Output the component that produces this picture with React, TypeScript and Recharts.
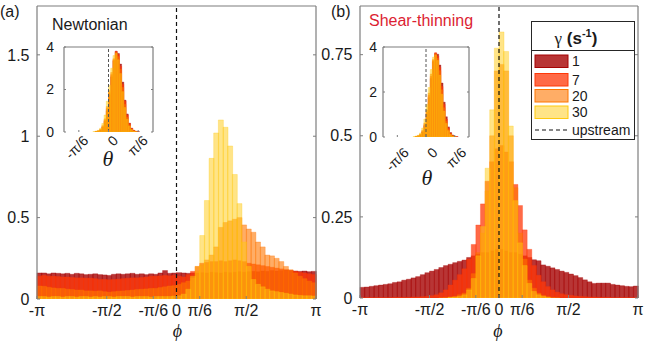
import React from "react";
import { ComposedChart, Bar, Line, XAxis, YAxis, ReferenceLine } from "recharts";

const PI = Math.PI;

// ---------- categories / ticks ----------
const GAMMA_LABELS = ["1", "7", "20", "30"];
const COLORS = ["#A60303", "#FF3809", "#FF7600", "#FFC90F"];
const ALPHAS = [0.8, 0.75, 0.6, 0.5];

const PHI_TICKS = [-PI, -PI / 2, -PI / 6, 0, PI / 6, PI / 2, PI];
const PHI_TICK_LABELS = ["-π", "-π/2", "-π/6", "0", "π/6", "π/2", "π"];
const THETA_TICKS = [-PI / 6, 0, PI / 6];
const THETA_TICK_LABELS = ["-π/6", "0", "π/6"];

const A_Y_TICKS = [0, 0.5, 1, 1.5];
const A_Y_LABELS = ["0", "0.5", "1", "1.5"];
const B_Y_TICKS = [0, 0.25, 0.5, 0.75];
const B_Y_LABELS = ["0", "0.25", "0.5", "0.75"];
const INSET_Y_TICKS = [0, 2, 4];
const INSET_Y_LABELS = ["0", "2", "4"];

// bin centres (60 bins over [-pi, pi], 40 bins over [-pi/4, pi/4])
const PHI_BINS = Array.from({ length: 60 }, (_, i) => -PI + (i + 0.5) * ((2 * PI) / 60));
const THETA_BINS = Array.from({ length: 40 }, (_, i) => -PI / 4 + (i + 0.5) * (PI / 2 / 40));

// ---------- panel (a) Newtonian, phi ----------
const A_G1 = [
  0.16, 0.16, 0.155, 0.16, 0.158, 0.155, 0.158, 0.152, 0.158, 0.155,
  0.15, 0.152, 0.155, 0.15, 0.148, 0.145, 0.152, 0.155, 0.152, 0.155,
  0.158, 0.152, 0.155, 0.15, 0.155, 0.152, 0.16, 0.175, 0.158, 0.16,
  0.162, 0.16, 0.158, 0.16, 0.16, 0.162, 0.16, 0.165, 0.162, 0.16,
  0.165, 0.162, 0.165, 0.168, 0.165, 0.168, 0.17, 0.168, 0.172, 0.17,
  0.175, 0.172, 0.175, 0.178, 0.175, 0.172, 0.17, 0.172, 0.168, 0.17,
];
const A_G7 = [
  0.14, 0.145, 0.14, 0.14, 0.138, 0.135, 0.135, 0.132, 0.13, 0.13,
  0.128, 0.128, 0.125, 0.12, 0.12, 0.118, 0.12, 0.122, 0.125, 0.128,
  0.13, 0.13, 0.132, 0.135, 0.14, 0.14, 0.142, 0.145, 0.142, 0.145,
  0.14, 0.135, 0.15, 0.17, 0.2, 0.22, 0.225, 0.23, 0.23, 0.235,
  0.23, 0.235, 0.24, 0.235, 0.23, 0.22, 0.215, 0.21, 0.205, 0.2,
  0.195, 0.19, 0.185, 0.18, 0.175, 0.17, 0.165, 0.16, 0.155, 0.15,
];
const A_G20 = [
  0.08, 0.078, 0.072, 0.068, 0.065, 0.065, 0.06, 0.058, 0.055, 0.055,
  0.05, 0.05, 0.048, 0.05, 0.045, 0.042, 0.045, 0.048, 0.05, 0.052,
  0.055, 0.058, 0.06, 0.062, 0.065, 0.065, 0.07, 0.075, 0.08, 0.082,
  0.09, 0.1, 0.11, 0.13, 0.17, 0.21, 0.24, 0.27, 0.32, 0.44,
  0.47, 0.48, 0.49, 0.5, 0.455, 0.43, 0.41, 0.35, 0.32, 0.27,
  0.265, 0.25, 0.23, 0.2, 0.18, 0.16, 0.14, 0.125, 0.11, 0.1,
];
const A_G30 = [
  0.015, 0.015, 0.012, 0.015, 0.015, 0.012, 0.015, 0.015, 0.012, 0.015,
  0.015, 0.012, 0.015, 0.012, 0.015, 0.015, 0.012, 0.015, 0.015, 0.015,
  0.012, 0.015, 0.015, 0.015, 0.012, 0.015, 0.015, 0.015, 0.015, 0.018,
  0.02, 0.03, 0.06, 0.14, 0.2, 0.39, 0.605, 0.864, 1.02, 1.1,
  1.055, 0.94, 0.765, 0.586, 0.35, 0.2, 0.12, 0.09, 0.075, 0.06,
  0.05, 0.045, 0.04, 0.035, 0.03, 0.025, 0.022, 0.02, 0.02, 0.018,
];

// ---------- panel (b) Shear-thinning, phi ----------
const B_G1 = [
  0.033, 0.034, 0.036, 0.038, 0.04, 0.042, 0.044, 0.048, 0.05, 0.055,
  0.058, 0.062, 0.066, 0.072, 0.078, 0.083, 0.088, 0.094, 0.1, 0.104,
  0.109, 0.113, 0.117, 0.125, 0.13, 0.135, 0.14, 0.14, 0.145, 0.15,
  0.15, 0.145, 0.14, 0.14, 0.135, 0.13, 0.125, 0.118, 0.115, 0.102,
  0.098, 0.093, 0.088, 0.083, 0.079, 0.074, 0.069, 0.063, 0.056, 0.05,
  0.045, 0.046, 0.046, 0.046, 0.042, 0.04, 0.038, 0.036, 0.035, 0.037,
];
const B_G7 = [
  0.001, 0.001, 0.001, 0.001, 0.001, 0.001, 0.001, 0.002, 0.002, 0.002,
  0.002, 0.003, 0.003, 0.004, 0.005, 0.007, 0.01, 0.016, 0.025, 0.04,
  0.055, 0.072, 0.09, 0.12, 0.165, 0.225, 0.29, 0.36, 0.42, 0.46,
  0.47, 0.45, 0.42, 0.35, 0.285, 0.21, 0.15, 0.1, 0.07, 0.05,
  0.035, 0.025, 0.018, 0.013, 0.01, 0.008, 0.006, 0.005, 0.004, 0.003,
  0.003, 0.002, 0.002, 0.002, 0.001, 0.001, 0.001, 0.001, 0.001, 0.001,
];
const B_G20 = [
  0, 0, 0, 0, 0, 0, 0, 0, 0, 0,
  0, 0, 0, 0, 0, 0, 0, 0.001, 0.002, 0.003,
  0.005, 0.01, 0.015, 0.03, 0.075, 0.14, 0.2, 0.33, 0.5, 0.7,
  0.72, 0.7, 0.5, 0.34, 0.2, 0.12, 0.055, 0.03, 0.015, 0.008,
  0.004, 0.002, 0.001, 0, 0, 0, 0, 0, 0, 0,
  0, 0, 0, 0, 0, 0, 0, 0, 0, 0,
];
const B_G30 = [
  0, 0, 0, 0, 0, 0, 0, 0, 0, 0,
  0, 0, 0, 0, 0, 0, 0, 0, 0, 0.002,
  0.003, 0.005, 0.01, 0.025, 0.06, 0.13, 0.22, 0.4, 0.58, 0.77,
  0.82, 0.76, 0.53, 0.3, 0.17, 0.1, 0.045, 0.02, 0.01, 0.005,
  0.002, 0, 0, 0, 0, 0, 0, 0, 0, 0,
  0, 0, 0, 0, 0, 0, 0, 0, 0, 0,
];

// ---------- insets, theta ----------
const IA_G1 = [
  0, 0, 0, 0, 0, 0, 0, 0, 0, 0,
  0, 0, 0, 0, 0.02, 0.04, 0.09, 0.22, 0.5, 1.0,
  1.75, 2.6, 3.35, 3.8, 3.7, 3.2, 2.35, 1.5, 0.85, 0.42,
  0.18, 0.08, 0.03, 0.01, 0, 0, 0, 0, 0, 0,
];
const IA_G7 = [
  0, 0, 0, 0, 0, 0, 0, 0, 0, 0,
  0, 0, 0, 0, 0.02, 0.05, 0.1, 0.25, 0.55, 1.1,
  1.85, 2.7, 3.4, 3.8, 3.65, 3.1, 2.25, 1.45, 0.8, 0.4,
  0.17, 0.07, 0.03, 0.01, 0, 0, 0, 0, 0, 0,
];
const IA_G20 = [
  0, 0, 0, 0, 0, 0, 0, 0, 0, 0,
  0, 0, 0, 0, 0.03, 0.06, 0.13, 0.3, 0.62, 1.2,
  1.95, 2.8, 3.45, 3.75, 3.55, 2.95, 2.1, 1.3, 0.7, 0.33,
  0.14, 0.05, 0.02, 0, 0, 0, 0, 0, 0, 0,
];
const IA_G30 = [
  0, 0, 0, 0, 0, 0, 0, 0, 0, 0,
  0, 0, 0, 0.02, 0.04, 0.08, 0.18, 0.4, 0.8, 1.45,
  2.2, 3.0, 3.6, 3.7, 3.4, 2.75, 1.9, 1.15, 0.6, 0.28,
  0.11, 0.04, 0.01, 0, 0, 0, 0, 0, 0, 0,
];
const IB_G1 = [
  0, 0, 0, 0, 0, 0, 0, 0, 0, 0,
  0, 0, 0, 0, 0, 0.02, 0.04, 0.09, 0.22, 0.5,
  1.0, 1.75, 2.6, 3.35, 3.72, 3.68, 3.2, 2.4, 1.55, 0.9,
  0.45, 0.2, 0.09, 0.03, 0.01, 0, 0, 0, 0, 0,
];
const IB_G7 = [
  0, 0, 0, 0, 0, 0, 0, 0, 0, 0,
  0, 0, 0, 0, 0, 0.02, 0.05, 0.1, 0.25, 0.55,
  1.1, 1.85, 2.7, 3.4, 3.75, 3.6, 3.1, 2.25, 1.45, 0.8,
  0.4, 0.17, 0.07, 0.03, 0.01, 0, 0, 0, 0, 0,
];
const IB_G20 = [
  0, 0, 0, 0, 0, 0, 0, 0, 0, 0,
  0, 0, 0, 0, 0, 0.03, 0.06, 0.13, 0.3, 0.62,
  1.2, 1.95, 2.8, 3.45, 3.7, 3.5, 2.95, 2.1, 1.3, 0.7,
  0.33, 0.14, 0.05, 0.02, 0, 0, 0, 0, 0, 0,
];
const IB_G30 = [
  0, 0, 0, 0, 0, 0, 0, 0, 0, 0,
  0, 0, 0, 0, 0.02, 0.04, 0.08, 0.18, 0.4, 0.8,
  1.45, 2.2, 3.0, 3.55, 3.65, 3.4, 2.75, 1.9, 1.15, 0.6,
  0.28, 0.11, 0.04, 0.01, 0, 0, 0, 0, 0, 0,
];

// ---------- helpers ----------
type Row = { x: number; s0: number; s1: number; s2: number; s3: number };
const makeRows = (bins: number[], s: number[][]): Row[] =>
  bins.map((x, i) => ({ x, s0: s[0][i], s1: s[1][i], s2: s[2][i], s3: s[3][i] }));

const ROWS_A = makeRows(PHI_BINS, [A_G1, A_G7, A_G20, A_G30]);
const ROWS_B = makeRows(PHI_BINS, [B_G1, B_G7, B_G20, B_G30]);
const ROWS_IA = makeRows(THETA_BINS, [IA_G1, IA_G7, IA_G20, IA_G30]);
const ROWS_IB = makeRows(THETA_BINS, [IB_G1, IB_G7, IB_G20, IB_G30]);

const SANS = '"Liberation Sans", Arial, Helvetica, sans-serif';
const SERIF = '"Liberation Serif", "Times New Roman", serif';
const AXIS = "#7d7d7d";
const TXT = "#1a1a1a";

const lookup = (ticks: number[], labels: string[]) => (v: number) => {
  const i = ticks.findIndex((t) => Math.abs(t - v) < 1e-6);
  return i >= 0 ? labels[i] : "";
};

function seriesBars() {
  return [0, 1, 2, 3].map((k) => (
    <Bar
      key={`bar${k}`}
      xAxisId={`c${k}`}
      yAxisId="L"
      dataKey={`s${k}`}
      fill={COLORS[k]}
      fillOpacity={ALPHAS[k]}
      stroke={COLORS[k]}
      strokeOpacity={0.5}
      strokeWidth={0.6}
      isAnimationActive={false}
      legendType="none"
    />
  ));
}
function catAxes() {
  return [0, 1, 2, 3].map((k) => (
    <XAxis key={`cx${k}`} xAxisId={`c${k}`} dataKey="x" type="category" hide />
  ));
}

type MainProps = {
  left: number;
  width: number;
  plotLeft: number;
  plotRight: number;
  plotTop: number;
  plotBottom: number;
  yAxisW: number;
  yMax: number;
  yTicks: number[];
  yLabels: string[];
  rows: Row[];
};

function MainPanel(p: MainProps) {
  const margin = {
    top: p.plotTop - 1,
    right: p.left + p.width - p.plotRight - 1,
    bottom: 0,
    left: p.plotLeft - p.left - p.yAxisW,
  };
  const fmtX = lookup(PHI_TICKS, PHI_TICK_LABELS);
  const PhiTick = (tp: any) => (
    <g>
      <line x1={tp.x} x2={tp.x} y1={p.plotBottom} y2={p.plotBottom - 3} stroke={AXIS} strokeWidth={1} />
      <text
        x={tp.x}
        y={p.plotBottom + 17}
        textAnchor="middle"
        fontSize={16}
        fontFamily={SANS}
        fill={TXT}
      >
        {fmtX(tp.payload.value)}
      </text>
    </g>
  );
  return (
    <div style={{ position: "absolute", left: p.left, top: 0 }}>
      <ComposedChart width={p.width} height={341} data={p.rows} margin={margin} barCategoryGap={0} barGap={0}>
        {catAxes()}
        <XAxis
          xAxisId="num"
          dataKey="x"
          type="number"
          domain={[-PI, PI]}
          allowDataOverflow
          ticks={PHI_TICKS}
          interval={0}
          height={341 - p.plotBottom}
          tickSize={0}
          tickLine={false}
          tickMargin={0}
          tick={PhiTick}
          axisLine={{ stroke: AXIS, strokeWidth: 1.2 }}
        />
        <XAxis
          xAxisId="top"
          orientation="top"
          dataKey="x"
          type="number"
          domain={[-PI, PI]}
          allowDataOverflow
          height={1}
          tick={false}
          axisLine={{ stroke: AXIS, strokeWidth: 1.2 }}
        />
        <YAxis
          yAxisId="L"
          type="number"
          domain={[0, p.yMax]}
          allowDataOverflow
          ticks={p.yTicks}
          interval={0}
          tickFormatter={lookup(p.yTicks, p.yLabels)}
          width={p.yAxisW}
          tickSize={-3}
          tickMargin={10.5}
          tick={{ fontSize: 16, fontFamily: SANS, fill: TXT }}
          axisLine={{ stroke: AXIS, strokeWidth: 1.2 }}
          tickLine={{ stroke: AXIS }}
        />
        <YAxis
          yAxisId="R"
          orientation="right"
          type="number"
          domain={[0, p.yMax]}
          allowDataOverflow
          ticks={p.yTicks}
          interval={0}
          tickFormatter={() => ""}
          width={1}
          tickSize={-3}
          axisLine={{ stroke: AXIS, strokeWidth: 1.2 }}
          tickLine={{ stroke: AXIS }}
        />
        {seriesBars()}
        <Line xAxisId="num" yAxisId="R" dataKey="s0" stroke="none" dot={false} activeDot={false} isAnimationActive={false} legendType="none" />
        <Line xAxisId="top" yAxisId="L" dataKey="s0" stroke="none" dot={false} activeDot={false} isAnimationActive={false} legendType="none" />
        <ReferenceLine xAxisId="num" yAxisId="L" x={0} stroke="#111" strokeWidth={1.2} strokeDasharray="4 3" />
      </ComposedChart>
    </div>
  );
}

type InsetProps = {
  left: number;
  top: number;
  plotLeft: number;
  plotRight: number;
  plotTop: number;
  plotBottom: number;
  yGap: number;
  tdx: number;
  tdy: number;
  rows: Row[];
};

function Inset(p: InsetProps) {
  const yAxisW = 30;
  const width = p.plotRight - p.left + 4;
  const xAxisH = 40;
  const height = p.plotBottom - p.top + xAxisH;
  const margin = { top: p.plotTop - p.top - 1, right: 3, bottom: 0, left: p.plotLeft - p.left - yAxisW };
  const fmt = lookup(THETA_TICKS, THETA_TICK_LABELS);
  const axisY = p.plotBottom - p.top;
  const RotTick = (tp: any) => {
    const x = tp.x + p.tdx;
    const y = axisY + p.tdy;
    return (
      <g>
        <line x1={tp.x} x2={tp.x} y1={axisY} y2={axisY - 2} stroke={AXIS} strokeWidth={1} />
        <text
          x={x}
          y={y}
          transform={`rotate(-45 ${x} ${y})`}
          textAnchor="end"
          dominantBaseline="central"
          fontSize={14}
          fontFamily={SANS}
          fill={TXT}
        >
          {fmt(tp.payload.value)}
        </text>
      </g>
    );
  };
  return (
    <>
      <div
        style={{
          position: "absolute",
          left: p.plotLeft,
          top: p.plotTop,
          width: p.plotRight - p.plotLeft,
          height: p.plotBottom - p.plotTop,
          background: "#fff",
        }}
      />
      <div style={{ position: "absolute", left: p.left, top: p.top }}>
        <ComposedChart width={width} height={height} data={p.rows} margin={margin} barCategoryGap={0} barGap={0}>
          {catAxes()}
          <XAxis
            xAxisId="num"
            dataKey="x"
            type="number"
            domain={[-PI / 4, PI / 4]}
            allowDataOverflow
            ticks={THETA_TICKS}
            interval={0}
            height={xAxisH}
            tickSize={0}
            tickLine={false}
            tickMargin={0}
            tick={RotTick}
            axisLine={{ stroke: AXIS, strokeWidth: 1.2 }}
          />
          <XAxis
            xAxisId="top"
            orientation="top"
            dataKey="x"
            type="number"
            domain={[-PI / 4, PI / 4]}
            allowDataOverflow
            height={1}
            tick={false}
            axisLine={{ stroke: AXIS, strokeWidth: 1.2 }}
          />
          <YAxis
            yAxisId="L"
            type="number"
            domain={[0, 4]}
            allowDataOverflow
            ticks={INSET_Y_TICKS}
            interval={0}
            tickFormatter={lookup(INSET_Y_TICKS, INSET_Y_LABELS)}
            width={yAxisW}
            tickSize={-2}
            tickMargin={p.yGap + 2}
            tick={{ fontSize: 14, fontFamily: SANS, fill: TXT }}
            axisLine={{ stroke: AXIS, strokeWidth: 1.2 }}
            tickLine={{ stroke: AXIS }}
          />
          <YAxis
            yAxisId="R"
            orientation="right"
            type="number"
            domain={[0, 4]}
            allowDataOverflow
            ticks={INSET_Y_TICKS}
            interval={0}
            tickFormatter={() => ""}
            width={1}
            tickSize={-2}
            axisLine={{ stroke: AXIS, strokeWidth: 1.2 }}
            tickLine={{ stroke: AXIS }}
          />
          {seriesBars()}
          <Line xAxisId="num" yAxisId="R" dataKey="s0" stroke="none" dot={false} activeDot={false} isAnimationActive={false} legendType="none" />
          <Line xAxisId="top" yAxisId="L" dataKey="s0" stroke="none" dot={false} activeDot={false} isAnimationActive={false} legendType="none" />
          <ReferenceLine xAxisId="num" yAxisId="L" x={0} stroke="#555" strokeWidth={1} strokeDasharray="3 2" />
        </ComposedChart>
      </div>
    </>
  );
}

function LegendBox() {
  const x0 = 531.5;
  const y0 = 21.5;
  const w = 103;
  const h = 118;
  const sw = { x: 535, w: 33, h: 12.5 };
  const rowsY = [55, 73.5, 89.5, 106];
  return (
    <g>
      <rect x={x0} y={y0} width={w} height={h} fill="#fff" stroke="#262626" strokeWidth={1} />
      <line x1={x0} x2={x0 + w} y1={50.5} y2={50.5} stroke="#262626" strokeWidth={1} />
      <text x={576} y={43.5} textAnchor="middle" fontSize={17} fill={TXT}>
        <tspan fontFamily={SERIF}>γ</tspan>
        <tspan fontFamily={SANS} fontWeight="bold"> (s</tspan>
        <tspan fontFamily={SANS} fontWeight="bold" fontSize={11} dy={-7}>-1</tspan>
        <tspan fontFamily={SANS} fontWeight="bold" dy={7}>)</tspan>
      </text>
      {GAMMA_LABELS.map((lab, k) => (
        <g key={lab}>
          <rect
            x={sw.x}
            y={rowsY[k]}
            width={sw.w}
            height={sw.h}
            fill={COLORS[k]}
            fillOpacity={ALPHAS[k]}
            stroke={COLORS[k]}
            strokeWidth={1}
          />
          <text x={572} y={rowsY[k] + 11} fontSize={14} fontFamily={SANS} fill={TXT}>
            {lab}
          </text>
        </g>
      ))}
      <line x1={535} x2={568} y1={130} y2={130} stroke="#111" strokeWidth={1.2} strokeDasharray="4 3" />
      <text x={572} y={135} fontSize={14} fontFamily={SANS} fill={TXT}>
        upstream
      </text>
    </g>
  );
}

export default function App() {
  return (
    <div style={{ position: "absolute", left: 0, top: 0, width: 657, height: 341, background: "#fff", overflow: "hidden" }}>
      <MainPanel
        left={0}
        width={330}
        plotLeft={37}
        plotRight={316}
        plotTop={6}
        plotBottom={299}
        yAxisW={30}
        yMax={1.8}
        yTicks={A_Y_TICKS}
        yLabels={A_Y_LABELS}
        rows={ROWS_A}
      />
      <MainPanel
        left={318}
        width={339}
        plotLeft={360}
        plotRight={638}
        plotTop={6}
        plotBottom={298}
        yAxisW={36}
        yMax={0.9}
        yTicks={B_Y_TICKS}
        yLabels={B_Y_LABELS}
        rows={ROWS_B}
      />
      <Inset left={20} top={40} plotLeft={64} plotRight={153} plotTop={47} plotBottom={132} yGap={10} tdx={7} tdy={6} rows={ROWS_IA} />
      <Inset left={340} top={40} plotLeft={383} plotRight={469} plotTop={47} plotBottom={137} yGap={6} tdx={9} tdy={13} rows={ROWS_IB} />
      <svg width={657} height={341} style={{ position: "absolute", left: 0, top: 0, pointerEvents: "none" }}>
        <text x={0} y={17} fontSize={16} fontFamily={SANS} fill={TXT}>(a)</text>
        <text x={331} y={17} fontSize={16} fontFamily={SANS} fill={TXT}>(b)</text>
        <text x={52} y={29.5} fontSize={16} fontFamily={SANS} fill={TXT}>Newtonian</text>
        <text x={369} y={26} fontSize={16} fontFamily={SANS} fill="#DC1E32">Shear-thinning</text>
        <text x={177.5} y={336.5} textAnchor="middle" fontSize={18} fontStyle="italic" fontFamily={SERIF} fill={TXT}>ϕ</text>
        <text x={498} y={336.5} textAnchor="middle" fontSize={18} fontStyle="italic" fontFamily={SERIF} fill={TXT}>ϕ</text>
        <text x={108} y={166} textAnchor="middle" fontSize={22} fontStyle="italic" fontFamily={SERIF} fill={TXT}>θ</text>
        <text x={427} y={185} textAnchor="middle" fontSize={22} fontStyle="italic" fontFamily={SERIF} fill={TXT}>θ</text>
        <LegendBox />
      </svg>
    </div>
  );
}
